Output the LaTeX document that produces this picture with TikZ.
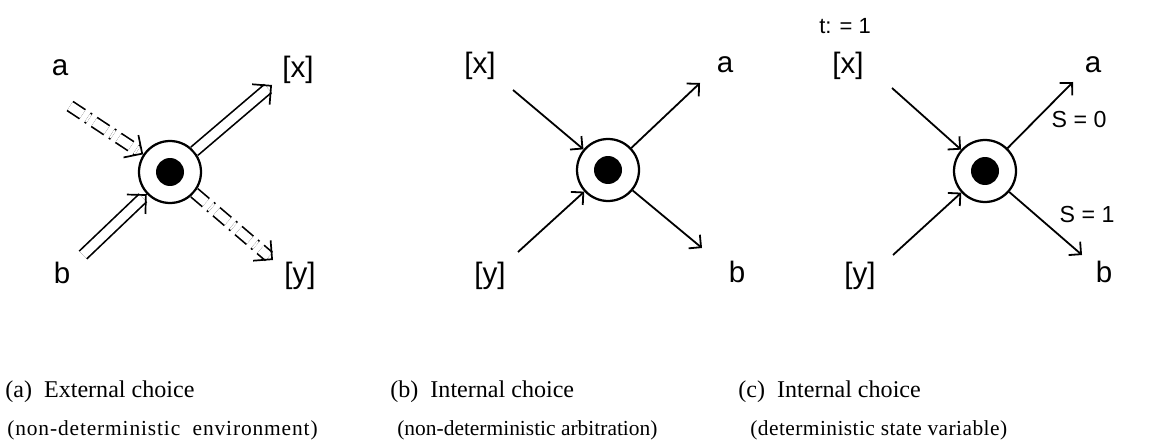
\documentclass[tikz,border=0pt]{standalone}
\usepackage{fontspec}
\setmainfont{Liberation Serif}
\setsansfont{Liberation Sans}
\usetikzlibrary{arrows.meta, calc}

\tikzset{
  hub/.style={circle, draw, line width=0.045cm, minimum size=1.24cm, inner sep=0pt,
    path picture={\fill (path picture bounding box.center) circle (0.28cm);}},
  lbl/.style={inner sep=0pt, font=\sffamily\fontsize{16.8}{19}\selectfont},
  val/.style={inner sep=0pt, font=\sffamily\fontsize{13.2}{15}\selectfont},
  captxt/.style={anchor=base west, inner sep=0pt, font=\fontsize{13.7}{16}\selectfont},
  subtxt/.style={anchor=base west, inner sep=0pt, font=\fontsize{12.2}{14}\selectfont},
  arr/.style={line width=0.036cm, -{Straight Barb[angle=90:0.25cm]}},
  dbl/.style={line width=0.034cm, double, double distance=0.18cm, shorten >=0.107cm},
  bigtip/.style={line width=0.034cm, -{Straight Barb[angle=90:0.38cm]}},
  dashdot/.style={dash pattern=on 0.3cm off 0.12cm on 0.04cm off 0.12cm}
}

\begin{document}
\begin{tikzpicture}[x=0.02cm, y=-0.02cm]
  \useasboundingbox (0,0) rectangle (1172,442);

  % (a) external choice
  \node[hub] (hA) at (170,172) {};
  \node[lbl] (la) at (60,68) {a};
  \node[lbl] (lax) at (298,70) {[x]};
  \node[lbl] (lab) at (62,273) {b};
  \node[lbl] (lay) at (300,276) {[y]};
  \coordinate (ia) at (70,106);
  \coordinate (ib) at (83,255);
  \coordinate (ox) at (272,85);
  \coordinate (oy) at (273,260);
  \draw[dbl, dashdot] (ia) -- coordinate[pos=1] (ta) (hA);
  \draw[bigtip] ($(ta)!1pt!(ia)$) -- (ta);
  \draw[dbl] (ib) -- coordinate[pos=1] (tb) (hA);
  \draw[bigtip] ($(tb)!1pt!(ib)$) -- (tb);
  \draw[dbl] (hA) -- (ox);
  \draw[bigtip] ($(ox)!1pt!(hA)$) -- (ox);
  \draw[dbl, dashdot] (hA) -- (oy);
  \draw[bigtip] ($(oy)!1pt!(hA)$) -- (oy);

  % (b) internal choice, arbitration
  \node[hub] (hB) at (608,170) {};
  \node[lbl] (lbx) at (480,66) {[x]};
  \node[lbl] (lba) at (725,65) {a};
  \node[lbl] (lby) at (490,276) {[y]};
  \node[lbl] (lbb) at (737,272) {b};
  \coordinate (ibx) at (513,90);
  \coordinate (iby) at (518,252);
  \coordinate (oba) at (700,83);
  \coordinate (obb) at (702,248);
  \draw[arr] (ibx) -- (hB);
  \draw[arr] (iby) -- (hB);
  \draw[arr] (hB) -- (oba);
  \draw[arr] (hB) -- (obb);

  % (c) internal choice, state variable
  \node[hub] (hC) at (985,171) {};
  \node[lbl, font=\sffamily\fontsize{12.5}{14}\selectfont] (lt) at (845,26) {t: = 1};
  \node[lbl] (lcx) at (848,66) {[x]};
  \node[lbl] (lca) at (1093,65) {a};
  \node[val] (ls0) at (1079,120) {S = 0};
  \node[val] (ls1) at (1087,215) {S = 1};
  \node[lbl] (lcy) at (860,276) {[y]};
  \node[lbl] (lcb) at (1104,272) {b};
  \coordinate (icx) at (892,88);
  \coordinate (icy) at (893,255);
  \coordinate (oca) at (1073,82);
  \coordinate (ocb) at (1082,255);
  \draw[arr] (icx) -- (hC);
  \draw[arr] (icy) -- (hC);
  \draw[arr] (hC) -- (oca);
  \draw[arr] (hC) -- (ocb);

  % captions
  \node[captxt] (ca) at (5,397) {(a)\ \ External choice};
  \node[subtxt] (sa) at (7,435) {\addfontfeature{LetterSpace=4}(non-deterministic\ \ environment)};
  \node[captxt] (cb) at (390,397) {(b)\ \ Internal choice};
  \node[subtxt] (sb) at (397,435) {(non-deterministic arbitration)};
  \node[captxt] (cc) at (738,397) {(c)\ \ Internal choice};
  \node[subtxt] (sc) at (750,435) {\addfontfeature{LetterSpace=2}(deterministic state variable)};
\end{tikzpicture}
\end{document}
